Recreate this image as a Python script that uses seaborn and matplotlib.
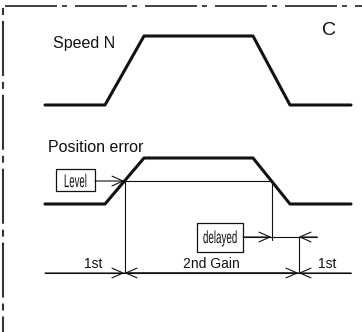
import numpy as np
import seaborn as sns
import matplotlib.pyplot as plt
from matplotlib.patches import Rectangle, PathPatch
from matplotlib.textpath import TextPath
from matplotlib.font_manager import FontProperties
from matplotlib.transforms import Affine2D

# timing diagram, time axis in pixels of the 362 wide picture
time = [45, 105, 144, 253, 290, 351]
speed = [0, 0, 1, 1, 0, 0]
pos_err = [0, 0, 1, 1, 0, 0]
level = 0.5
delay = 27
gain_labels = ['1st', '2nd Gain', '1st']

# vertical placement of the traces (baseline, height)
speed_base, speed_h = 105, 69
err_base, err_h = 204, 46
gain_y = 273
delay_y = 237

sns.set_theme(style='white')
plt.rcParams['font.family'] = ['Liberation Sans', 'DejaVu Sans']
plt.rcParams['lines.scale_dashes'] = False

fig = plt.figure(figsize=(3.62, 3.32), dpi=100)
ax = fig.add_axes([0, 0, 1, 1])
ax.set_xlim(0, 362)
ax.set_ylim(332, 0)
ax.axis('off')

ink = '#111111'


def narrow_text(x, y, s, em, sx):
    # condensed label, centred on (x, y) in pixel data units
    tp = TextPath((0, 0), s, size=em, prop=FontProperties(family='Liberation Sans'))
    ext = tp.get_extents()
    cx = (ext.x0 + ext.x1) / 2
    cy = (ext.y0 + ext.y1) / 2
    tr = Affine2D().translate(-cx, -cy).scale(sx, -1).translate(x, y)
    ax.add_patch(PathPatch(tr.transform_path(tp), fc=ink, ec='none'))


# traces
sns.lineplot(x=time, y=[speed_base - v * speed_h for v in speed], ax=ax,
             color=ink, lw=2.2, sort=False)
sns.lineplot(x=time, y=[err_base - v * err_h for v in pos_err], ax=ax,
             color=ink, lw=2.2, sort=False)

# level crossings on rising and falling edges
t_on = np.interp(level, [0, 1], time[1:3])
t_off = np.interp(1 - level, [0, 1], time[3:5])
t_sw = t_off + delay
level_y = err_base - level * err_h

# dash-dot frame
ax.plot([5, 362], [6, 6], color='#333333', lw=1.3,
        linestyle=(0, (37.4, 3.6, 3.6, 5.8)))
ax.plot([2.5, 2.5], [8, 332], color='#333333', lw=1.5,
        linestyle=(0, (5.0, 4.3, 39.6, 4.3)))

thin = dict(color=ink, lw=0.8)
arr = dict(arrowstyle='->,head_length=0.8,head_width=0.35', color=ink,
           lw=0.8, shrinkA=0, shrinkB=0, mutation_scale=10)

# level line and box
ax.add_patch(Rectangle((56, 169), 39, 22, fill=False, ec=ink, lw=0.9))
narrow_text(75.5, 180.5, 'Level', 18.5, 0.52)
ax.plot([t_on, t_off], [level_y, level_y], **thin)
ax.annotate('', xy=(t_on, level_y), xytext=(95, level_y), arrowprops=arr)
ax.plot([t_on, t_on], [level_y, gain_y], **thin)
ax.plot([t_off, t_off], [level_y, delay_y + 3], **thin)

# delayed box
ax.add_patch(Rectangle((197, 223), 46, 29, fill=False, ec=ink, lw=0.9))
narrow_text(220, 238.5, 'delayed', 17.5, 0.56)
ax.plot([243, 317], [delay_y, delay_y], **thin)
ax.annotate('', xy=(t_off, delay_y), xytext=(243, delay_y), arrowprops=arr)
ax.annotate('', xy=(t_sw, delay_y), xytext=(317, delay_y), arrowprops=arr)
ax.plot([t_sw, t_sw], [delay_y, gain_y], **thin)

# gain line
ax.plot([time[0], time[-1]], [gain_y, gain_y], **thin)
for x0, x1 in [(time[0], t_on), (t_sw, t_on), (t_on, t_sw), (time[-1], t_sw)]:
    ax.annotate('', xy=(x1, gain_y), xytext=(x0, gain_y), arrowprops=arr)
label_x = [93, (t_on + t_sw) / 2, 327]
for x, lab in zip(label_x, gain_labels):
    ax.text(x, gain_y - 5, lab, ha='center', va='baseline', fontsize=10,
            color=ink)

# titles
ax.text(53, 48, 'Speed N', ha='left', va='baseline', fontsize=11.5, color=ink)
ax.text(48, 152, 'Position error', ha='left', va='baseline', fontsize=11.5,
        color=ink)
ax.text(322, 35, 'C', ha='left', va='baseline', fontsize=14, color=ink)

fig.savefig('out.png', dpi=100)
